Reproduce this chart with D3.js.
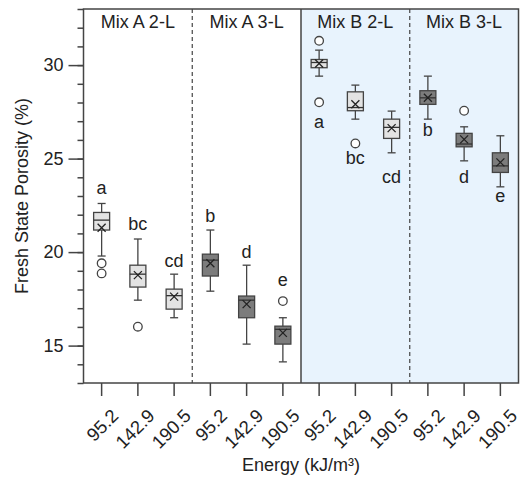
<!DOCTYPE html>
<html>
<head>
<meta charset="utf-8">
<script src="https://cdn.jsdelivr.net/npm/d3@7"></script>
<style>
  body { margin: 0; background: #fff; }
  text { font-family: "Liberation Sans", Arial, sans-serif; fill: #222; }
</style>
</head>
<body>
<script>
// panel names and energy levels
var groups = ["Mix A 2-L", "Mix A 3-L", "Mix B 2-L", "Mix B 3-L"];
var energies = ["95.2", "142.9", "190.5"];

// box stats, one entry per box (4 groups x 3 energies)
var whiskerLow  = [19.79, 17.43, 16.49, 17.91, 15.08, 14.13, 29.41, 27.11, 25.31, 27.11, 24.88, 23.49];
var q1          = [21.18, 18.13, 16.95, 18.72, 16.49, 15.08, 29.86, 27.56, 26.08, 27.90, 25.63, 24.26];
var medians     = [21.71, 18.82, 17.67, 19.57, 17.43, 15.87, 30.14, 27.73, 26.67, 28.25, 25.78, 24.61];
var q3          = [22.12, 19.30, 18.02, 19.89, 17.65, 16.04, 30.30, 28.57, 27.11, 28.63, 26.35, 25.31];
var whiskerHigh = [22.60, 20.70, 18.82, 21.18, 19.30, 16.49, 30.80, 28.93, 27.54, 29.41, 26.70, 26.22];
var means       = [21.30, 18.77, 17.62, 19.40, 17.22, 15.68, 30.09, 27.91, 26.63, 28.25, 26.03, 24.80];
var outliers    = [[19.40, 18.86], [16.01], [], [], [], [17.38], [31.30, 28.01], [25.81], [], [], [27.56], []];
var letters     = ["a", "bc", "cd", "b", "d", "e", "a", "bc", "cd", "b", "d", "e"];
var letterAt    = [23.10, 21.18, 19.20, 21.62, 19.70, 18.20, 26.65, 24.69, 23.71, 26.20, 23.67, 22.69];

var yMajor = [15, 20, 25, 30];

const w = 520, h = 479;
const pLeft = 83.5, pRight = 518.5, pTop = 9, pBottom = 383;

var keys = d3.range(groups.length * energies.length);

const x = d3.scaleBand()
    .domain(keys)
    .range([pLeft, pRight]);

const y = d3.scaleLinear()
    .domain([13, 33])
    .range([pBottom, pTop]);

const svg = d3.select("body").append("svg")
    .attr("width", w)
    .attr("height", h);

var line = "#444";
var bw = 16, cap = 8;
var step = x.step();

// shaded Mix B area
svg.append("rect")
    .attr("x", x(6))
    .attr("y", pTop)
    .attr("width", pRight - x(6))
    .attr("height", pBottom - pTop)
    .attr("fill", "#e8f3fd");

// group separators
[3, 9].forEach(function (k) {
    svg.append("line")
        .attr("x1", x(k)).attr("x2", x(k))
        .attr("y1", pTop).attr("y2", pBottom)
        .attr("stroke", line).attr("stroke-width", 1.2)
        .attr("stroke-dasharray", "4,3");
});
svg.append("line")
    .attr("x1", x(6)).attr("x2", x(6))
    .attr("y1", pTop).attr("y2", pBottom)
    .attr("stroke", line).attr("stroke-width", 1.5);

// frame
svg.append("rect")
    .attr("x", pLeft).attr("y", pTop)
    .attr("width", pRight - pLeft).attr("height", pBottom - pTop)
    .attr("fill", "none").attr("stroke", line).attr("stroke-width", 1.5);

// group titles
svg.selectAll(".gtitle")
    .data(groups)
    .enter().append("text")
    .attr("class", "gtitle")
    .attr("x", (d, i) => x(i * 3) + step * 1.5)
    .attr("y", 28)
    .attr("text-anchor", "middle")
    .style("font-size", "18px")
    .text(d => d);

// y axis: minor ticks every 1, labels on majors
const yAxis = d3.axisLeft(y)
    .tickValues(d3.range(13, 34))
    .tickSize(6)
    .tickFormat("");
svg.append("g")
    .attr("transform", "translate(" + pLeft + ",0)")
    .call(yAxis)
    .call(g => g.select(".domain").remove())
    .call(g => g.selectAll("line").attr("stroke", line).attr("stroke-width", 1.5));

const yAxisMajor = d3.axisLeft(y)
    .tickValues(yMajor)
    .tickSize(15)
    .tickPadding(5);
svg.append("g")
    .attr("transform", "translate(" + pLeft + ",0)")
    .call(yAxisMajor)
    .call(g => g.select(".domain").remove())
    .call(g => g.selectAll("line").attr("stroke", line).attr("stroke-width", 1.5))
    .call(g => g.selectAll("text")
        .style("font-size", "18px")
        .style("font-family", "'Liberation Sans', Arial, sans-serif")
        .attr("fill", "#222"));

// x axis
const xAxis = d3.axisBottom(x)
    .tickSize(13)
    .tickFormat("");
svg.append("g")
    .attr("transform", "translate(0," + pBottom + ")")
    .call(xAxis)
    .call(g => g.select(".domain").remove())
    .call(g => g.selectAll("line").attr("stroke", line).attr("stroke-width", 1.5));

svg.selectAll(".xlab")
    .data(keys)
    .enter().append("text")
    .attr("class", "xlab")
    .attr("transform", d => "translate(" + (x(d) + step / 2 + 18) + "," + 417 + ") rotate(-45)")
    .attr("text-anchor", "end")
    .style("font-size", "18.5px")
    .text(d => energies[d % 3]);

// axis titles
svg.append("text")
    .attr("x", (pLeft + pRight) / 2)
    .attr("y", 471)
    .attr("text-anchor", "middle")
    .style("font-size", "18px")
    .text("Energy (kJ/m³)");

svg.append("text")
    .attr("transform", "translate(28," + ((pTop + pBottom) / 2) + ") rotate(-90)")
    .attr("text-anchor", "middle")
    .style("font-size", "18px")
    .text("Fresh State Porosity (%)");

// boxes
var cx = d => x(d) + step / 2;
var fill = d => (Math.floor(d / 3) % 2 === 0) ? "#e3e3e3" : "#7c7c7c";

var box = svg.selectAll(".box")
    .data(keys)
    .enter().append("g")
    .attr("class", "box");

box.append("line")
    .attr("x1", cx).attr("x2", cx)
    .attr("y1", d => y(whiskerLow[d])).attr("y2", d => y(whiskerHigh[d]))
    .attr("stroke", line).attr("stroke-width", 1.3);

box.append("line")
    .attr("x1", d => cx(d) - cap / 2).attr("x2", d => cx(d) + cap / 2)
    .attr("y1", d => y(whiskerLow[d])).attr("y2", d => y(whiskerLow[d]))
    .attr("stroke", line).attr("stroke-width", 1.3);

box.append("line")
    .attr("x1", d => cx(d) - cap / 2).attr("x2", d => cx(d) + cap / 2)
    .attr("y1", d => y(whiskerHigh[d])).attr("y2", d => y(whiskerHigh[d]))
    .attr("stroke", line).attr("stroke-width", 1.3);

box.append("rect")
    .attr("x", d => cx(d) - bw / 2)
    .attr("y", d => y(q3[d]))
    .attr("width", bw)
    .attr("height", d => y(q1[d]) - y(q3[d]))
    .attr("fill", fill)
    .attr("stroke", line).attr("stroke-width", 1.3);

box.append("line")
    .attr("x1", d => cx(d) - bw / 2).attr("x2", d => cx(d) + bw / 2)
    .attr("y1", d => y(medians[d])).attr("y2", d => y(medians[d]))
    .attr("stroke", "#333").attr("stroke-width", 1.3);

// mean marker
box.append("path")
    .attr("d", function (d) {
        var px = cx(d), py = y(means[d]), s = 4;
        return "M" + (px - s) + "," + (py - s) + "L" + (px + s) + "," + (py + s) +
            "M" + (px - s) + "," + (py + s) + "L" + (px + s) + "," + (py - s);
    })
    .attr("stroke", "#222").attr("stroke-width", 1.3);

// outliers
box.selectAll("circle")
    .data(d => outliers[d].map(v => [d, v]))
    .enter().append("circle")
    .attr("cx", d => cx(d[0]))
    .attr("cy", d => y(d[1]))
    .attr("r", 4.3)
    .attr("fill", "#fff")
    .attr("stroke", line).attr("stroke-width", 1.3);

// significance letters
svg.selectAll(".letter")
    .data(keys)
    .enter().append("text")
    .attr("class", "letter")
    .attr("x", cx)
    .attr("y", d => y(letterAt[d]))
    .attr("text-anchor", "middle")
    .style("font-size", "18px")
    .text(d => letters[d]);
</script>
</body>
</html>
